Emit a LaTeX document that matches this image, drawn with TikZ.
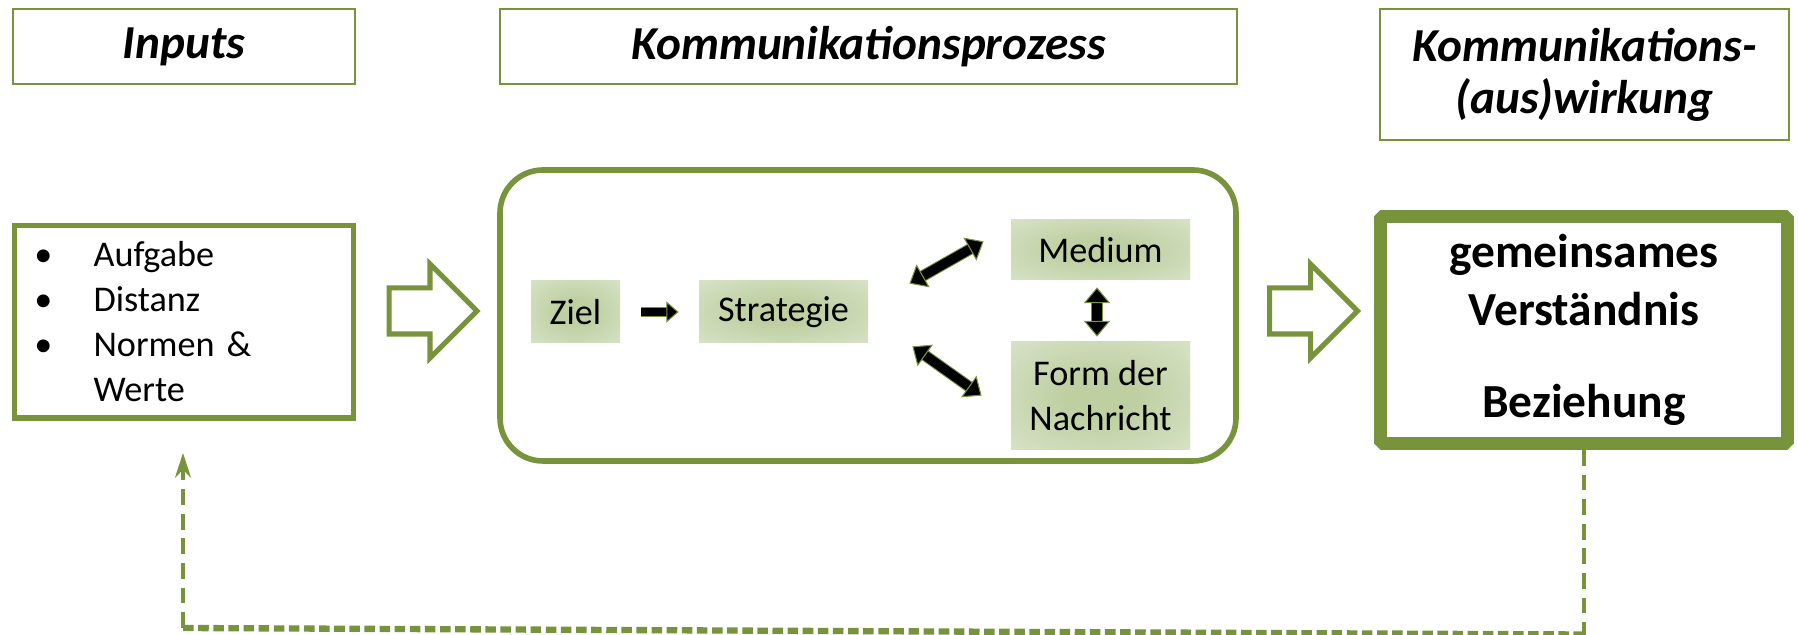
\documentclass[tikz,border=0pt]{standalone}
\usepackage{fontspec}
\setmainfont{Carlito}
\usepackage{tikz}
\usetikzlibrary{%
	calc,%
	arrows.meta,%
	shapes.arrows,%
	positioning,%
}
\definecolor{cgreen}{RGB}{119, 147, 60}
\definecolor{cgreenglow}{RGB}{190, 208, 162}
\definecolor{cgreenpale}{RGB}{234, 239, 225}
\pgfdeclareradialshading{boxglow}{\pgfpoint{0bp}{0bp}}{%
	color(0bp)=(cgreenglow); color(10bp)=(cgreenglow); color(55bp)=(cgreenpale); color(75bp)=(cgreenpale)}
\tikzset{
	>=Triangle,%
	nodes={align=center},%
	headbox/.style={%
			draw=cgreen,%
			line width=1pt,%
			minimum height=1.5cm,%
			font=\bfseries\itshape\fontsize{26.9}{29.6}\selectfont},%
	listbox/.style={%
			draw=cgreen,%
			line width=2.85pt,%
			minimum height=3.84cm,%
			text width=5.98cm,%
			inner xsep=0.4cm,%
			align=left,%
			font=\fontsize{20.6}{25.6}\selectfont},%
	procbox/.style={%
			draw=cgreen,%
			line width=3.2pt,%
			rounded corners=0.86cm,%
			minimum width=14.72cm,%
			minimum height=5.82cm},%
	glowbox/.style={%
			shade,%
			shading=boxglow,%
			inner sep=0pt,%
			minimum height=1.24cm,%
			font=\fontsize{20.6}{25.6}\selectfont},%
	resultbox/.style={%
			draw=cgreen,%
			line width=7.4pt,%
			line join=bevel,%
			minimum width=8.14cm,%
			minimum height=4.54cm,%
			font=\bfseries\fontsize{27}{33}\selectfont},%
	hollowarrow/.style={%
			single arrow,%
			draw=cgreen,%
			fill=white,%
			line width=2.85pt,%
			inner sep=0pt,%
			text height=0.82cm,%
			text depth=0pt,%
			minimum height=1.76cm,%
			single arrow head extend=0.48cm,%
			single arrow head indent=0pt},%
	onearrow/.style={%
			line width=5pt,%
			-{Triangle[length=7pt,width=12pt,fill=black,color=cgreen,line width=.6pt]},%
			preaction={draw=cgreen, line width=6.2pt, -, shorten >=6pt}},%
	twoarrow/.style={%
			line width=5.4pt,%
			{Triangle[length=9pt,width=15pt,fill=black,color=cgreen,line width=.6pt]}-{Triangle[length=9pt,width=15pt,fill=black,color=cgreen,line width=.6pt]},%
			preaction={draw=cgreen, line width=6.6pt, -, shorten <=7pt, shorten >=7pt}},%
	feedback/.style={%
			draw=cgreen,%
			line width=2.8pt,%
			dash pattern=on 9pt off 5pt},%
	feedbackdots/.style={%
			draw=cgreen,%
			line width=3.6pt,%
			dash pattern=on 6pt off 2.6pt},%
}

\begin{document}
\begin{tikzpicture}
	\useasboundingbox (0,0) rectangle (35.96,12.7);

	\node[headbox, minimum width=6.84cm] (hinp) at (3.68,11.77) {Inputs};
	\node[headbox, minimum width=14.74cm] (hproc) at (17.37,11.77) {Kommunikationsprozess};
	\node[headbox, minimum width=8.18cm, minimum height=2.62cm] (hout) at (31.69,11.21) {Kommunikations-\\(aus)wirkung};

	\node[listbox] (inp) at (3.68,6.26) {%
		\makebox[33.6pt][l]{\textbullet}Aufgabe\\
		\makebox[33.6pt][l]{\textbullet}Distanz\\
		\makebox[33.6pt][l]{\textbullet}Normen \&\\
		\hspace*{33.6pt}Werte};
	\node[procbox] (proc) at (17.36,6.39) {};
	\node[glowbox, minimum width=1.78cm] (ziel) at (11.51,6.46) {Ziel};
	\node[glowbox, minimum width=3.38cm] (strat) at (15.67,6.46) {Strategie};
	\node[glowbox, minimum width=3.58cm, minimum height=1.2cm] (med) at (22.01,7.70) {Medium};
	\node[glowbox, minimum width=3.58cm, minimum height=2.16cm] (form) at (22.01,4.78) {Form der\\Nachricht};
	\node[resultbox] (out) at (31.68,6.10) {gemeinsames\\Verständnis\\[19pt]Beziehung};

	\node[hollowarrow] (ar1) at (8.43,6.48) {};
	\node[hollowarrow] (ar2) at (26.04,6.48) {};

	\draw[onearrow] ($(ziel.east)+(0.42,0)$) to ($(strat.west)+(-0.4,0)$);
	\draw[twoarrow] ($(strat.north east)+(0.82,-0.06)$) to ($(med.south west)+(-0.54,0.78)$);
	\draw[twoarrow] ($(strat.south east)+(0.88,-0.06)$) to ($(form.north west)+(-0.58,-1.08)$);
	\draw[twoarrow] ($(med.south)+(-0.07,-0.14)$) to ($(form.north)+(-0.07,0.1)$);

	% feedback loop back to the inputs
	\coordinate (fbr) at ($(out.south)+(0,-3.69)$);
	\coordinate (fbl) at (3.66,0.14);
	\coordinate (fb) at (3.66,3.64);
	\draw[feedback] (out.south) to (fbr);
	\draw[feedbackdots] (fbr) to (fbl);
	\draw[feedback, -{Stealth[length=14pt,width=9pt]}] (fbl) to (fb);
\end{tikzpicture}
\end{document}
